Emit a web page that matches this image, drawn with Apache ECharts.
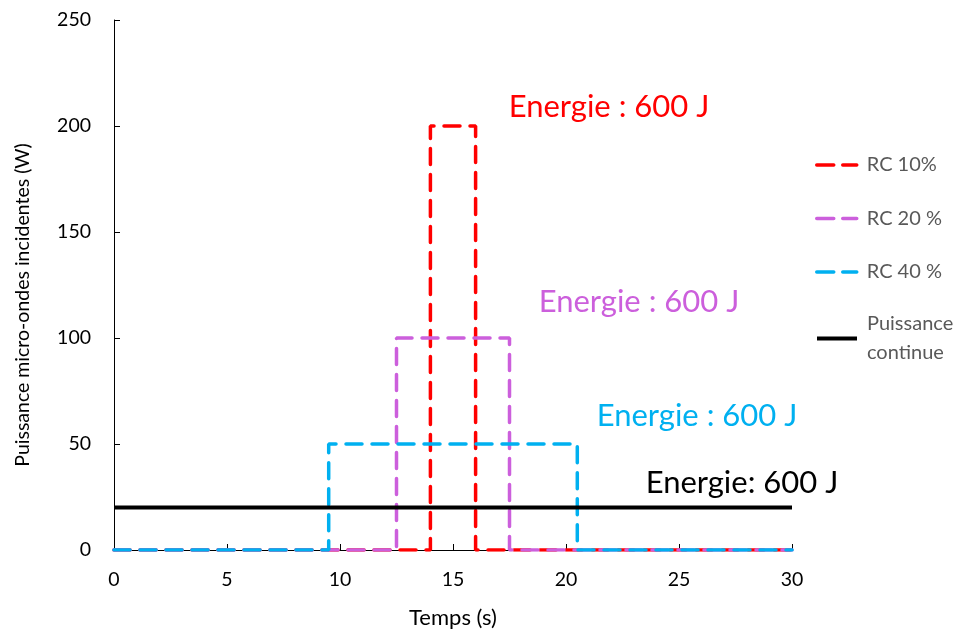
<!DOCTYPE html>
<html><head><meta charset="utf-8">
<script src="https://cdn.jsdelivr.net/npm/echarts@6/dist/echarts.min.js"></script>
<style>html,body{margin:0;padding:0;background:#fff}#c{width:960px;height:631px}</style>
</head><body><div id="c"></div>
<script>
const seriesNames = ['RC 10%', 'RC 20 %', 'RC 40 %', 'Puissance continue'];
const rc10 = [[0,0],[14,0],[14,200],[16,200],[16,0],[30,0]];
const rc20 = [[0,0],[12.5,0],[12.5,100],[17.5,100],[17.5,0],[30,0]];
const rc40 = [[0,0],[9.5,0],[9.5,50],[20.5,50],[20.5,0],[30,0]];
const continu = [[0,20],[30,20]];
const xTicks = [0,5,10,15,20,25,30];
const yTicks = [0,50,100,150,200,250];
const annotations = ['Energie : 600 J','Energie : 600 J','Energie : 600 J','Energie: 600 J'];

const F = 'Lato, "Open Sans", sans-serif';
const colors = ['#FF0000','#CC5FDC','#00B0F0','#000000'];
const DASH = [16,10];
const chart = echarts.init(document.getElementById('c'));
function mk(name, data, color, dashed, z){
  return {name, type:'line', data, symbol:'none', z,
    lineStyle:{color, width: dashed ? 3.5 : 4, type: dashed ? DASH : 'solid', cap: dashed ? 'round' : 'butt'},
    itemStyle:{color}};
}
function legItem(name, dashed, extra){
  return Object.assign({name, itemStyle:{opacity:0},
    lineStyle:{width: dashed ? 3.5 : 4, type: dashed ? [17,9] : 'solid', cap: dashed ? 'round' : 'butt'}}, extra || {});
}
const legendText = {fontFamily:F, fontSize:20, color:'#595959', lineHeight:24, padding:[0,0,0,5]};
chart.setOption({
  animation:false,
  color: colors,
  grid:{left:114, right:168, top:20, bottom:81, containLabel:false, outerBoundsMode:'none'},
  xAxis:{type:'value', min:0, max:30, interval:5,
    name:'Temps (s)', nameLocation:'middle', nameGap:57,
    nameTextStyle:{fontFamily:F, fontSize:22, color:'#000'},
    axisLine:{lineStyle:{color:'#000', width:1}},
    axisTick:{inside:true, length:6, lineStyle:{color:'#000'}},
    axisLabel:{fontFamily:F, fontSize:19.5, color:'#000', margin:20},
    splitLine:{show:false}},
  yAxis:{type:'value', min:0, max:250, interval:50,
    name:'Puissance micro-ondes incidentes (W)', nameLocation:'middle', nameGap:81,
    nameTextStyle:{fontFamily:F, fontSize:19.5, color:'#000', padding:[0,40,0,0]},
    axisLine:{show:true, lineStyle:{color:'#000', width:1}},
    axisTick:{show:true, inside:true, length:6, lineStyle:{color:'#000'}},
    axisLabel:{fontFamily:F, fontSize:19.5, color:'#000', margin:23},
    splitLine:{show:false}},
  legend:[
    {orient:'vertical', left:810, top:148, itemWidth:40, itemHeight:14, itemGap:29.5,
      textStyle:legendText,
      data:[legItem(seriesNames[0],true), legItem(seriesNames[1],true), legItem(seriesNames[2],true)]},
    {orient:'vertical', left:810, top:290, itemWidth:40, itemHeight:14,
      textStyle:Object.assign({}, legendText, {lineHeight:29, padding:[29,0,0,5]}),
      data:[legItem(seriesNames[3],false)],
      formatter: n => 'Puissance\ncontinue'}
  ],
  graphic:[
    {type:'text', x:609, y:107, style:{text:annotations[0], fill:colors[0], font:'31px '+F, align:'center', verticalAlign:'middle'}},
    {type:'text', x:639, y:302, style:{text:annotations[1], fill:colors[1], font:'31px '+F, align:'center', verticalAlign:'middle'}},
    {type:'text', x:697, y:416, style:{text:annotations[2], fill:colors[2], font:'31px '+F, align:'center', verticalAlign:'middle'}},
    {type:'text', x:742, y:483, style:{text:annotations[3], fill:colors[3], font:'31px '+F, align:'center', verticalAlign:'middle'}}
  ],
  series:[
    mk(seriesNames[0], rc10, colors[0], true, 2),
    mk(seriesNames[1], rc20, colors[1], true, 3),
    mk(seriesNames[2], rc40, colors[2], true, 4),
    mk(seriesNames[3], continu, colors[3], false, 5)
  ]
});
</script></body></html>
